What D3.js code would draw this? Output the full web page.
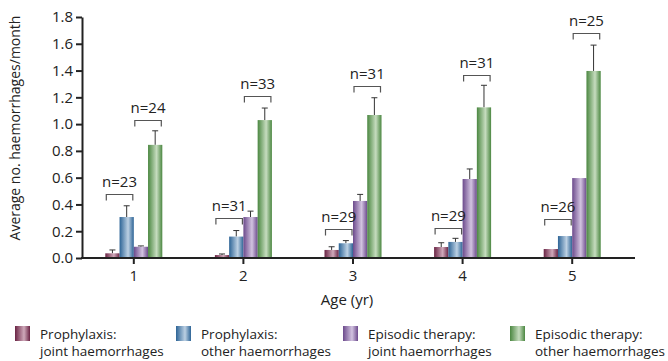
<!DOCTYPE html>
<html>
<head>
<meta charset="utf-8">
<script src="https://cdn.jsdelivr.net/npm/d3@7"></script>
<style>
  body { margin: 0; background: #fff; }
  text { font-family: "Open Sans", sans-serif; fill: #222; }
</style>
</head>
<body>
<div id="chart"></div>
<script>
// values
const ages = ["1", "2", "3", "4", "5"];
const seriesNames = ["Prophylaxis: joint haemorrhages", "Prophylaxis: other haemorrhages",
                     "Episodic therapy: joint haemorrhages", "Episodic therapy: other haemorrhages"];
const prophJoint   = [0.035, 0.022, 0.06, 0.082, 0.067];
const prophOther   = [0.306, 0.16, 0.11, 0.12, 0.164];
const episJoint    = [0.084, 0.306, 0.426, 0.59, 0.597];
const episOther    = [0.845, 1.03, 1.068, 1.125, 1.397];
const prophJointErr = [0.06, 0.03, 0.084, 0.114, null];
const prophOtherErr = [0.39, 0.205, 0.13, 0.147, null];
const episJointErr  = [0.09, 0.35, 0.475, 0.665, null];
const episOtherErr  = [0.95, 1.12, 1.197, 1.29, 1.59];
const nProph = ["n=23", "n=31", "n=29", "n=29", "n=26"];
const nEpis  = ["n=24", "n=33", "n=31", "n=31", "n=25"];
const bracketProph = [0.476, 0.296, 0.219, 0.224, 0.289];
const bracketEpis  = [1.03, 1.212, 1.287, 1.364, 1.683];
const yTicks = [0, 0.2, 0.4, 0.6, 0.8, 1.0, 1.2, 1.4, 1.6, 1.8];

const values = [prophJoint, prophOther, episJoint, episOther];
const errors = [prophJointErr, prophOtherErr, episJointErr, episOtherErr];

const colors = [
  { dark: "#6a2444", light: "#cfa9ba" },
  { dark: "#2d6496", light: "#bcd0e3" },
  { dark: "#6c4a8c", light: "#d2c3e0" },
  { dark: "#4b8741", light: "#c6dcbf" }
];

const width = 668, height = 361;

const svg = d3.select("#chart").append("svg")
    .attr("width", width).attr("height", height);

const defs = svg.append("defs");
colors.forEach((c, i) => {
  const g = defs.append("linearGradient").attr("id", "grad" + i)
      .attr("x1", "0%").attr("x2", "100%").attr("y1", "0%").attr("y2", "0%");
  g.append("stop").attr("offset", "0%").attr("stop-color", c.dark);
  g.append("stop").attr("offset", "60%").attr("stop-color", c.light);
  g.append("stop").attr("offset", "100%").attr("stop-color", c.dark);
});

const x = d3.scaleBand().domain(ages).range([79, 627]);
const x1 = d3.scaleBand().domain(d3.range(4))
    .range([x.bandwidth() / 2 - 28.5, x.bandwidth() / 2 + 28.5]);
const y = d3.scaleLinear().domain([0, 1.8]).range([258, 17]);

// bars
const groups = svg.selectAll("g.group")
  .data(ages)
  .join("g")
    .attr("class", "group")
    .attr("transform", d => `translate(${x(d)},0)`);

groups.each(function(age, ai) {
  const g = d3.select(this);
  values.forEach((vals, si) => {
    const err = errors[si][ai];
    if (err != null) {
      const cx = x1(si) + x1.bandwidth() / 2;
      g.append("line")
        .attr("x1", cx).attr("x2", cx)
        .attr("y1", y(vals[ai])).attr("y2", y(err))
        .attr("stroke", "#333").attr("stroke-width", 1);
      g.append("line")
        .attr("x1", cx - 3).attr("x2", cx + 3)
        .attr("y1", y(err)).attr("y2", y(err))
        .attr("stroke", "#333").attr("stroke-width", 1);
    }
    g.append("rect")
      .attr("x", x1(si))
      .attr("y", y(vals[ai]))
      .attr("width", x1.bandwidth())
      .attr("height", y(0) - y(vals[ai]))
      .attr("fill", `url(#grad${si})`);
  });

  // n brackets
  const brackets = [
    { from: 0, to: 1, v: bracketProph[ai], label: nProph[ai] },
    { from: 2, to: 3, v: bracketEpis[ai], label: nEpis[ai] }
  ];
  brackets.forEach(b => {
    const x0 = x1(b.from) + 1, xe = x1(b.to) + x1.bandwidth() - 1, by = Math.round(y(b.v)) + 0.5;
    g.append("path")
      .attr("d", `M${x0},${by + 6}V${by}H${xe}V${by + 6}`)
      .attr("fill", "none").attr("stroke", "#555").attr("stroke-width", 1.2);
    g.append("text")
      .attr("x", (x0 + xe) / 2).attr("y", by - 8)
      .attr("text-anchor", "middle")
      .style("font-size", "15px")
      .text(b.label);
  });
});

// axes
const xAxis = svg.append("g").attr("transform", `translate(0,${y(0)})`);
xAxis.call(d3.axisBottom(x).tickSize(6).tickSizeOuter(0));
xAxis.select(".domain").remove();
xAxis.append("line").attr("x1", 81).attr("x2", 635).attr("y1", 0).attr("y2", 0)
  .attr("stroke", "#222").attr("stroke-width", 2);
xAxis.selectAll(".tick line").attr("stroke", "#222").attr("stroke-width", 2);
xAxis.selectAll(".tick text").attr("dy", "0.9em").style("font-size", "15px").attr("fill", "#222");

const yAxis = svg.append("g").attr("transform", "translate(82,0)");
yAxis.call(d3.axisLeft(y).tickValues(yTicks).tickFormat(d3.format(".1f")).tickSize(6).tickSizeOuter(0));
yAxis.select(".domain").attr("stroke", "#222").attr("stroke-width", 2);
yAxis.selectAll(".tick line").attr("stroke", "#222").attr("stroke-width", 2);
yAxis.selectAll(".tick text").attr("x", -9).style("font-size", "15px").attr("fill", "#222");

svg.append("text")
  .attr("transform", "translate(20,128) rotate(-90)")
  .attr("text-anchor", "middle")
  .style("font-size", "14px")
  .text("Average no. haemorrhages/month");

svg.append("text")
  .attr("x", 347).attr("y", 305)
  .attr("text-anchor", "middle")
  .style("font-size", "15px")
  .text("Age (yr)");

// legend
const legendX = [15, 176, 343, 510];
const legend = svg.selectAll("g.legend")
  .data(seriesNames)
  .join("g")
    .attr("class", "legend")
    .attr("transform", (d, i) => `translate(${legendX[i]},326)`);
legend.append("rect")
  .attr("width", 15).attr("height", 15)
  .attr("fill", (d, i) => `url(#grad${i})`);
legend.each(function(d) {
  const parts = d.split(": ");
  const t = d3.select(this).append("text").style("font-size", "13.5px");
  t.append("tspan").attr("x", 25).attr("y", 13).text(parts[0] + ":");
  t.append("tspan").attr("x", 25).attr("y", 30).text(parts[1]);
});
</script>
</body>
</html>
